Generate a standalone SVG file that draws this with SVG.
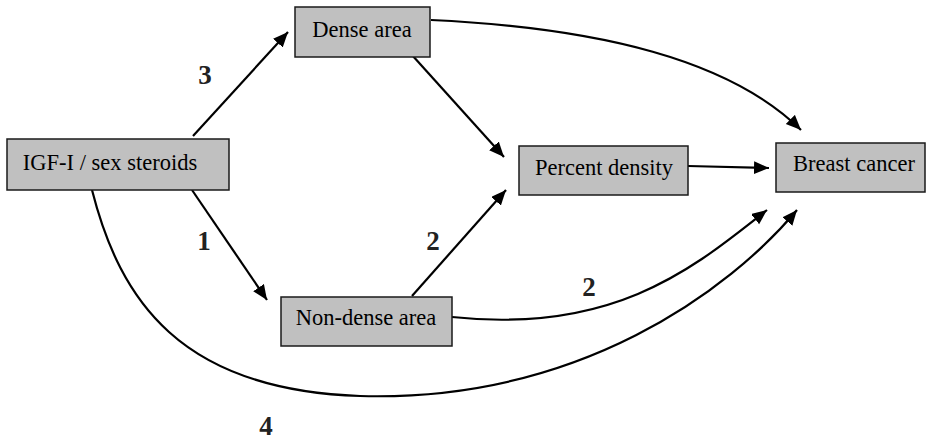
<svg xmlns="http://www.w3.org/2000/svg" width="926" height="442" viewBox="0 0 926 442">
<style>
.box{fill:#c0c0c0;stroke:#1a1a1a;stroke-width:1.5}
.t{font-size:22.5px;fill:#000;text-anchor:middle}
.n{font-size:27px;font-weight:bold;fill:#222;text-anchor:middle}
.c{fill:none;stroke:#000;stroke-width:2.2}
</style>
<defs>
<marker id="ah" markerUnits="userSpaceOnUse" markerWidth="16" markerHeight="14" refX="15" refY="6.5" orient="auto">
<path d="M0,0 L15,6.5 L0,13 z" fill="#000"/>
</marker>
</defs>
<rect width="926" height="442" fill="#fff"/>
<g id="connectors">
<path class="c" d="M193,136 L288,32" marker-end="url(#ah)"/>
<path class="c" d="M412,55 L504,157" marker-end="url(#ah)"/>
<path class="c" d="M192,190 L267,300" marker-end="url(#ah)"/>
<path class="c" d="M412,296 L506,190" marker-end="url(#ah)"/>
<path class="c" d="M688,166 L769,168" marker-end="url(#ah)"/>
<path class="c" d="M431,20 C600,28 730,60 801,130" marker-end="url(#ah)"/>
<path class="c" d="M452,317 C620,335 700,262 767,210" marker-end="url(#ah)"/>
<path class="c" d="M92,190 C120,300 180,390 360,396 C580,402 730,290 797,210" marker-end="url(#ah)"/>
</g>
<g font-family="Liberation Serif, Tinos, Times New Roman, serif">
<g id="labels">
<text class="n" x="205" y="84">3</text>
<text class="n" x="204" y="250">1</text>
<text class="n" x="433" y="250">2</text>
<text class="n" x="589" y="296">2</text>
<text class="n" x="266" y="435">4</text>
</g>
<g id="igf">
<rect class="box" x="7" y="139" width="222" height="51"/>
<text class="t" x="110" y="170">IGF-I / sex steroids</text>
</g>
<g id="dense">
<rect class="box" x="295" y="7" width="135" height="50"/>
<text class="t" x="362" y="37">Dense area</text>
</g>
<g id="percent">
<rect class="box" x="519" y="146" width="169" height="49"/>
<text class="t" x="604" y="175">Percent density</text>
</g>
<g id="breast">
<rect class="box" x="776" y="143" width="149" height="49"/>
<text class="t" x="854" y="171">Breast cancer</text>
</g>
<g id="nondense">
<rect class="box" x="281" y="297" width="171" height="49"/>
<text class="t" x="366" y="325">Non-dense area</text>
</g>
</g>
</svg>
